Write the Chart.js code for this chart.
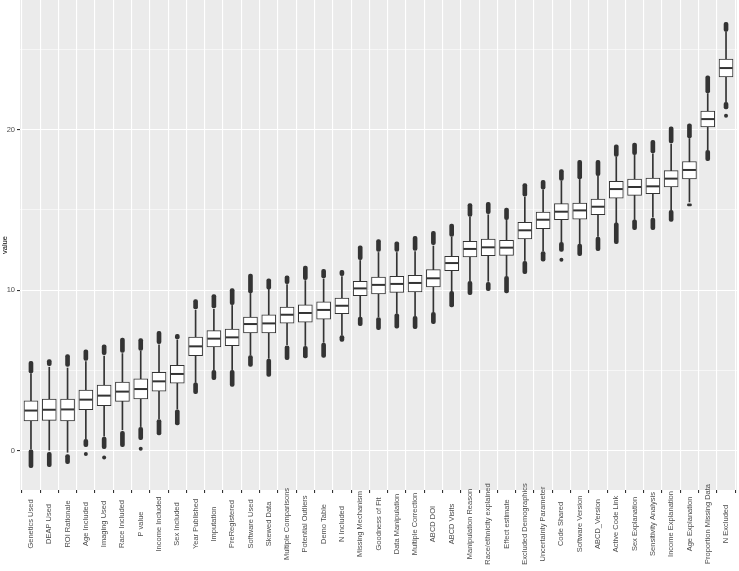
<!DOCTYPE html>
<html><head><meta charset="utf-8">
<script src="https://cdn.jsdelivr.net/npm/chart.js@4.4.0/dist/chart.umd.min.js"></script>
<style>html,body{margin:0;padding:0;background:#fff}#wrap{width:739px;height:571px}</style>
</head><body><div id="wrap"><canvas id="c" width="739" height="571"></canvas></div>
<script>
const categories = ["Genetics Used","DEAP Used","ROI Rationale","Age Included","Imaging Used","Race Included","P value","Income Included","Sex Included","Year Published","Imputation","PreRegistered","Software Used","Skewed Data","Multiple Comparisons","Potential Outliers","Demo Table","N Included","Missing Mechanism","Goodness of Fit","Data Manipulation","Multiple Correction","ABCD DOI","ABCD Visits","Manipulation Reason","Race/ethnicity explained","Effect estimate","Excluded Demographics","Uncertainty Parameter","Code Shared","Software Version","ABCD_Version","Active Code Link","Sex Explanation","Sensitivity Analysis","Income Explanation","Age Explanation","Proportion Missing Data","N Excluded"];
const q1 = [1.85,1.89,1.85,2.55,2.8,3.07,3.22,3.7,4.21,5.92,6.46,6.54,7.33,7.33,7.95,8.0,8.2,8.54,9.66,9.77,9.86,9.89,10.2,11.21,12.07,12.15,12.17,13.19,13.83,14.39,14.43,14.7,15.74,15.91,16.01,16.43,16.93,20.17,23.28];
const medians = [2.5,2.55,2.57,3.18,3.43,3.68,3.84,4.32,4.78,6.5,6.98,7.06,7.89,7.93,8.47,8.58,8.77,9.03,10.11,10.33,10.39,10.45,10.74,11.69,12.57,12.67,12.65,13.73,14.39,14.89,14.97,15.2,16.3,16.43,16.47,16.95,17.49,20.66,23.84];
const q3 = [3.1,3.22,3.22,3.78,4.09,4.28,4.47,4.88,5.31,7.08,7.48,7.58,8.33,8.47,8.95,9.08,9.28,9.51,10.55,10.81,10.86,10.92,11.28,12.11,13.04,13.19,13.1,14.22,14.87,15.39,15.43,15.68,16.78,16.93,16.99,17.45,18.02,21.16,24.4];
const whiskerLow = [0.1,0.0,-0.1,0.75,0.9,1.3,1.5,2.0,2.6,4.25,5.05,5.05,5.95,5.75,6.6,6.55,6.75,7.2,8.35,8.35,8.55,8.4,8.65,9.95,10.6,10.55,10.9,11.85,12.45,13.0,12.9,13.35,14.2,14.4,14.55,15.0,15.5,18.75,21.75];
const whiskerHigh = [4.8,5.2,5.15,5.55,5.9,6.05,6.2,6.6,6.9,8.75,8.8,9.05,9.8,10.05,10.35,10.6,10.7,10.85,11.85,12.35,12.35,12.4,12.75,13.3,14.55,14.7,14.35,15.8,16.25,16.8,16.9,17.1,18.3,18.4,18.5,19.1,19.45,22.25,26.1];
const outlierHighMin = [4.85,5.3,5.25,5.63,5.98,6.12,6.25,6.67,6.96,8.83,8.89,9.1,9.83,10.07,10.4,10.65,10.76,10.9,11.9,12.42,12.42,12.48,12.83,13.35,14.6,14.77,14.39,15.85,16.3,16.84,16.93,17.13,18.34,18.44,18.55,19.17,19.48,22.29,26.13];
const outlierHighMax = [5.56,5.67,5.98,6.29,6.6,7.02,6.98,7.43,7.25,9.41,9.72,10.1,11.0,10.7,10.9,11.5,11.3,11.23,12.77,13.15,13.02,13.35,13.66,14.12,15.39,15.47,15.12,16.64,16.84,17.51,18.09,18.09,19.05,19.17,19.33,20.17,20.37,23.36,26.69];
const outlierLowMax = [0.05,-0.1,-0.25,0.7,0.85,1.2,1.45,1.93,2.55,4.22,5.0,5.0,5.92,5.71,6.54,6.5,6.71,7.17,8.33,8.3,8.52,8.37,8.62,9.93,10.55,10.49,10.86,11.8,12.4,12.98,12.88,13.31,14.19,14.39,14.5,14.97,15.38,18.71,21.7];
const outlierLowMin = [-1.06,-1.0,-0.81,0.25,0.12,0.25,0.69,0.98,1.6,3.55,4.42,4.0,5.25,4.63,5.67,5.78,5.81,6.81,7.79,7.54,7.64,7.6,7.91,8.95,9.72,9.97,9.83,11.03,11.8,12.42,12.15,12.46,12.9,13.77,13.77,14.29,15.25,18.07,21.29];
const isolatedCategory = ["Age Included","Imaging Used","P value","Code Shared","N Excluded"];
const isolatedValue = [-0.2,-0.42,0.12,11.9,20.87];
const yTickLabels = [0,10,20];

const pos = name => categories.indexOf(name) + 1;
const FONT = "'Liberation Sans', Arial, sans-serif";

const bgPlugin = {
  id: 'panelBg',
  beforeDraw(chart) {
    const a = chart.chartArea, ctx = chart.ctx;
    ctx.save();
    ctx.fillStyle = '#ffffff';
    ctx.fillRect(0, 0, chart.width, chart.height);
    ctx.fillStyle = '#EBEBEB';
    ctx.fillRect(a.left, a.top, a.right - a.left, a.bottom - a.top);
    ctx.restore();
  }
};
const xLabelPlugin = {
  id: 'xLabels',
  afterDraw(chart) {
    const ctx = chart.ctx, xs = chart.scales.x;
    ctx.save();
    ctx.font = '7.5px ' + FONT;
    ctx.fillStyle = '#4D4D4D';
    ctx.textAlign = 'center';
    ctx.textBaseline = 'middle';
    categories.forEach((c, i) => {
      const x = xs.getPixelForValue(i + 1);
      ctx.save();
      ctx.translate(x, chart.chartArea.bottom + 34);
      ctx.rotate(-Math.PI / 2);
      ctx.fillText(c, 0, 0);
      ctx.restore();
    });
    ctx.restore();
  }
};

const barBase = { type: 'bar', grouped: false, borderSkipped: false };
new Chart(document.getElementById('c'), {
  type: 'bar',
  data: {
    datasets: [
      Object.assign({}, barBase, {
        label: 'whiskers', order: 5, barThickness: 1, backgroundColor: '#333333',
        data: categories.map((c, i) => ({ x: i + 1, y: [whiskerLow[i], whiskerHigh[i]] }))
      }),
      Object.assign({}, barBase, {
        label: 'upper outliers', order: 4, barThickness: 4, borderRadius: 2, backgroundColor: '#333333',
        data: categories.map((c, i) => ({ x: i + 1, y: [outlierHighMin[i], outlierHighMax[i]] }))
      }),
      Object.assign({}, barBase, {
        label: 'lower outliers', order: 4, barThickness: 4, borderRadius: 2, backgroundColor: '#333333',
        data: categories.map((c, i) => ({ x: i + 1, y: [outlierLowMin[i], outlierLowMax[i]] }))
      }),
      Object.assign({}, barBase, {
        label: 'boxes', order: 3, barThickness: 14, backgroundColor: '#FFFFFF',
        borderColor: '#333333', borderWidth: 1,
        data: categories.map((c, i) => ({ x: i + 1, y: [q1[i], q3[i]] }))
      }),
      {
        type: 'scatter', label: 'isolated', order: 2, pointRadius: 2, pointBackgroundColor: '#333333',
        pointBorderWidth: 0, showLine: false,
        data: isolatedCategory.map((c, i) => ({ x: pos(c), y: isolatedValue[i] }))
      },
      {
        type: 'scatter', label: 'median', order: 1, pointStyle: 'line', pointRadius: 6.5,
        pointBorderColor: '#333333', pointBorderWidth: 2, showLine: false,
        data: categories.map((c, i) => ({ x: i + 1, y: medians[i] }))
      }
    ]
  },
  options: {
    responsive: false, animation: false, devicePixelRatio: 1,
    layout: { autoPadding: false, padding: { left: 0, right: 2, top: 0, bottom: 0 } },
    plugins: { legend: { display: false }, tooltip: { enabled: false } },
    scales: {
      x: {
        type: 'linear', min: 0.4, max: 39.6, offset: false,
        ticks: { stepSize: 1, display: false, includeBounds: false, autoSkip: false },
        grid: { color: '#FFFFFF', lineWidth: 1.1, drawTicks: true, tickLength: 3, tickColor: '#333333' },
        border: { display: false },
        afterFit(s) { s.height = 81; s.paddingLeft = 0; s.paddingRight = 0; }
      },
      y: {
        type: 'linear', min: -2.45, max: 28.08,
        ticks: {
          stepSize: 5, includeBounds: false, autoSkip: false, padding: 2,
          color: '#4D4D4D', font: { size: 7.5, family: FONT },
          callback: v => yTickLabels.includes(v) ? String(v) : ''
        },
        grid: {
          color: '#FFFFFF',
          lineWidth: ctx => yTickLabels.includes(ctx.tick.value) ? 1.1 : 0.55,
          drawTicks: true, tickLength: 3,
          tickColor: ctx => yTickLabels.includes(ctx.tick.value) ? '#333333' : 'rgba(0,0,0,0)'
        },
        border: { display: false },
        title: { display: true, text: 'value', color: '#000000', font: { size: 7.5, family: FONT }, padding: 0 },
        afterFit(s) { s.width = 20; s.paddingTop = 0; s.paddingBottom = 0; }
      }
    }
  },
  plugins: [bgPlugin, xLabelPlugin]
});
</script></body></html>
